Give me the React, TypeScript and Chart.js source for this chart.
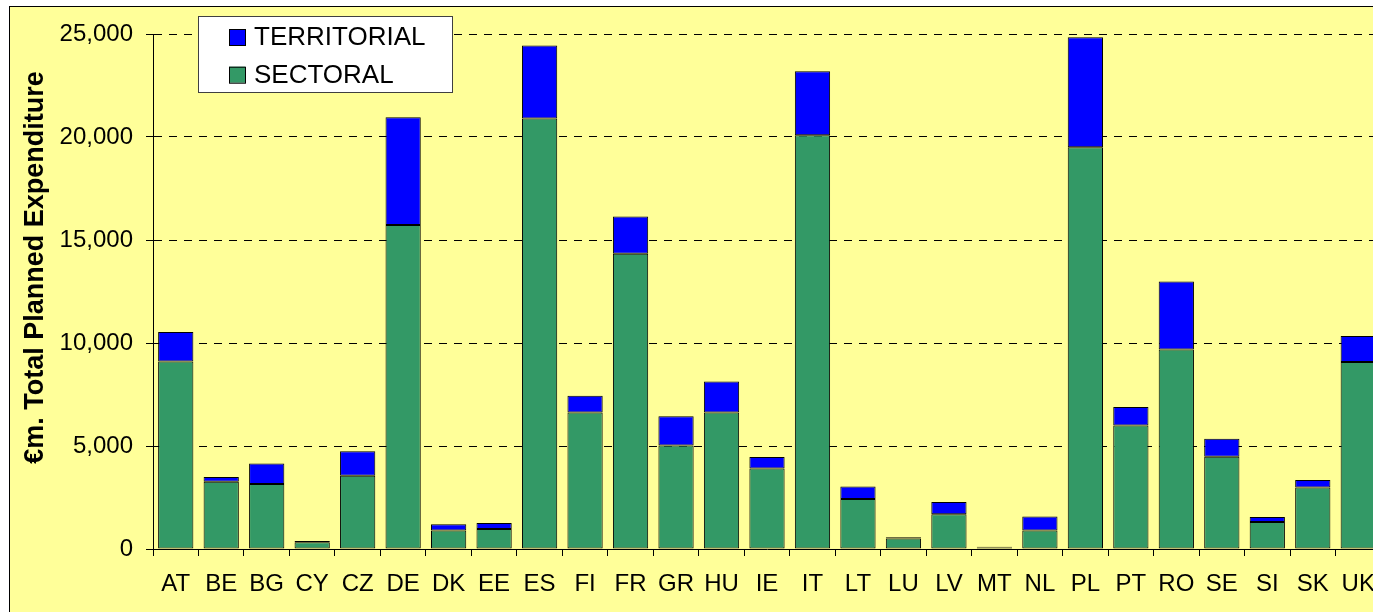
import React, { useEffect, useRef } from "react";
import { Chart, registerables } from "chart.js";

Chart.register(...registerables);

const categories = ["AT", "BE", "BG", "CY", "CZ", "DE", "DK", "EE", "ES", "FI", "FR", "GR", "HU", "IE", "IT", "LT", "LU", "LV", "MT", "NL", "PL", "PT", "RO", "SE", "SI", "SK", "UK"];
const sectoral = [9100, 3270, 3150, 330, 3560, 15730, 900, 970, 20900, 6630, 14330, 5020, 6630, 3910, 20090, 2430, 510, 1690, 70, 900, 19500, 5990, 9690, 4480, 1310, 2980, 9080];
const territorial = [1440, 230, 1000, 60, 1180, 5230, 300, 290, 3540, 810, 1810, 1430, 1500, 550, 3100, 610, 60, 590, 40, 680, 5340, 900, 3300, 870, 240, 370, 1260];
const seriesNames = ["SECTORAL", "TERRITORIAL"];
const seriesColors = ["#339966", "#0000FF"];
const yTitle = "€m. Total Planned Expenditure";
const yMax = 25000;
const yStep = 5000;

const FONT = '"Liberation Sans", Arial, sans-serif';
const CW = 1400;
const CH = 612;

const framePlugin = {
  id: "frame",
  beforeDraw(chart: any) {
    const ctx = chart.ctx;
    ctx.save();
    ctx.fillStyle = "#ffffff";
    ctx.fillRect(0, 0, CW, CH);
    ctx.fillStyle = "#FFFF99";
    ctx.fillRect(9, 6, CW, CH);
    ctx.fillStyle = "#000000";
    ctx.fillRect(9, 6, 1, CH);
    ctx.fillRect(9, 6, CW, 1);
    ctx.restore();
  },
};

const decorPlugin = {
  id: "decor",
  afterDraw(chart: any) {
    const ctx = chart.ctx;
    ctx.save();
    // y axis title
    ctx.translate(43, 267.5);
    ctx.rotate(-Math.PI / 2);
    ctx.font = "bold 27px " + FONT;
    ctx.fillStyle = "#000";
    ctx.textAlign = "center";
    ctx.textBaseline = "alphabetic";
    ctx.fillText(yTitle, 0, 0);
    ctx.restore();

    // legend
    ctx.save();
    ctx.fillStyle = "#ffffff";
    ctx.fillRect(198, 16, 255, 77);
    ctx.strokeStyle = "#404040";
    ctx.lineWidth = 1;
    ctx.strokeRect(198.5, 16.5, 254, 76);
    const ds = chart.data.datasets.slice().reverse();
    ds.forEach((d: any, i: number) => {
      const top = 29 + i * 37.7;
      ctx.fillStyle = d.backgroundColor;
      ctx.fillRect(229, top, 16, 16);
      ctx.strokeStyle = "#000";
      ctx.strokeRect(229.5, top + 0.5, 16, 16);
      ctx.fillStyle = "#000";
      ctx.font = "26px " + FONT;
      ctx.textAlign = "left";
      ctx.textBaseline = "alphabetic";
      ctx.fillText(d.label, 254, 45 + i * 37.7);
    });
    ctx.restore();
  },
};

export default function App() {
  const ref = useRef<HTMLCanvasElement>(null);
  useEffect(() => {
    if (!ref.current) return;
    Chart.defaults.font.family = FONT;
    Chart.defaults.color = "#000";
    const chart = new Chart(ref.current, {
      type: "bar",
      data: {
        labels: categories,
        datasets: [
          {
            label: seriesNames[0],
            data: sectoral,
            backgroundColor: seriesColors[0],
            borderColor: "#000",
            borderWidth: 1,
            borderSkipped: false,
            barPercentage: 0.775,
            categoryPercentage: 1,
          },
          {
            label: seriesNames[1],
            data: territorial,
            backgroundColor: seriesColors[1],
            borderColor: "#000",
            borderWidth: 1,
            borderSkipped: false,
            barPercentage: 0.775,
            categoryPercentage: 1,
          },
        ],
      },
      options: {
        animation: false,
        responsive: false,
        devicePixelRatio: 1,
        layout: { padding: { top: 34, right: 19, left: 0, bottom: 0 } },
        plugins: {
          legend: { display: false },
          tooltip: { enabled: false },
        },
        scales: {
          x: {
            stacked: true,
            offset: true,
            grid: {
              display: true,
              drawOnChartArea: false,
              drawTicks: true,
              tickLength: 7,
              tickColor: "#000",
              color: "#000",
              offset: true,
            },
            border: { display: true, color: "#000", width: 1 },
            ticks: { font: { size: 24 }, color: "#000", padding: 14, maxRotation: 0, autoSkip: false },
            afterFit: (s: any) => {
              s.height = 63;
            },
          },
          y: {
            stacked: true,
            min: 0,
            max: yMax,
            grid: {
              color: "#000",
              lineWidth: 1,
              tickLength: 7,
              tickColor: "#000",
              tickBorderDash: [],
              borderDash: [8, 7],
            } as any,
            border: { display: true, color: "#000", width: 1, dash: [8, 7] },
            ticks: {
              stepSize: yStep,
              font: { size: 24 },
              color: "#000",
              padding: 13,
              callback: (v: any) => Number(v).toLocaleString("en-US"),
            },
            afterFit: (s: any) => {
              s.width = 153;
            },
          },
        },
      },
      plugins: [framePlugin, decorPlugin],
    });
    return () => chart.destroy();
  }, []);
  return (
    <div style={{ position: "absolute", left: 0, top: 0, width: 1373, height: 612, overflow: "hidden" }}>
      <canvas ref={ref} width={CW} height={CH} style={{ width: CW, height: CH, display: "block" }} />
    </div>
  );
}
